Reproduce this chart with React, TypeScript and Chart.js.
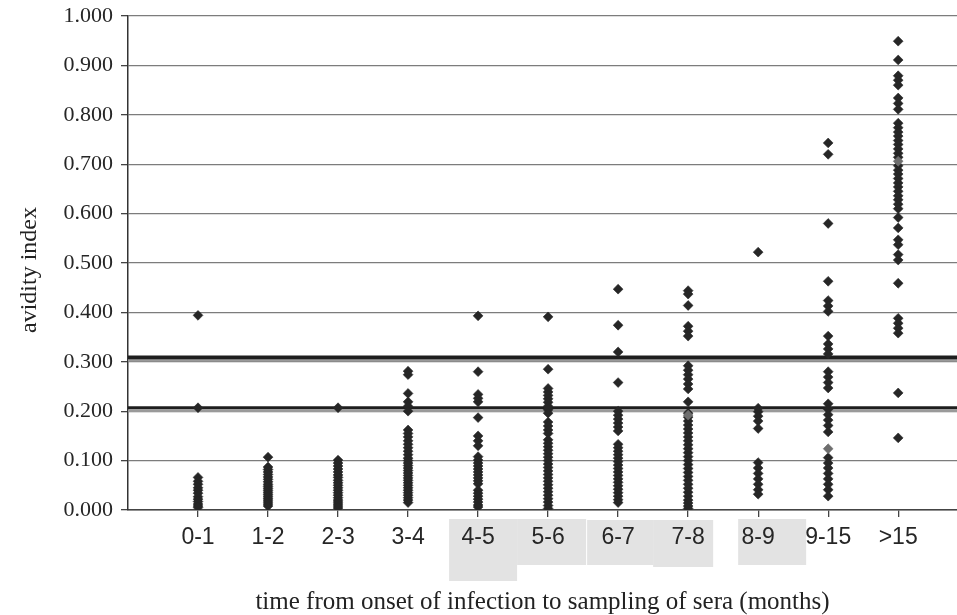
import React, { useEffect, useRef } from 'react';
import { Chart, registerables } from 'chart.js';

Chart.register(...registerables);

// ---- data -----------------------------------------------------------------
const CATEGORIES = ['0-1', '1-2', '2-3', '3-4', '4-5', '5-6', '6-7', '7-8', '8-9', '9-15', '>15'];

const AVIDITY_0_1 = [0.394, 0.207, 0.066, 0.058, 0.052, 0.045, 0.040, 0.034, 0.027, 0.022, 0.017, 0.012, 0.008, 0.005];
const AVIDITY_1_2 = [0.107, 0.087, 0.082, 0.077, 0.072, 0.067, 0.062, 0.057, 0.052, 0.048, 0.044, 0.040, 0.036, 0.032, 0.028, 0.024, 0.020, 0.016, 0.012, 0.008];
const AVIDITY_2_3 = [0.207, 0.101, 0.095, 0.089, 0.083, 0.077, 0.071, 0.066, 0.060, 0.055, 0.050, 0.045, 0.040, 0.035, 0.030, 0.025, 0.020, 0.016, 0.012, 0.008, 0.004];
const AVIDITY_3_4 = [0.281, 0.274, 0.236, 0.219, 0.210, 0.200, 0.162, 0.155, 0.148, 0.140, 0.133, 0.126, 0.119, 0.112, 0.105, 0.100, 0.095, 0.090, 0.085, 0.080, 0.075, 0.070, 0.065, 0.060, 0.055, 0.050, 0.045, 0.040, 0.035, 0.030, 0.025, 0.020, 0.015];
const AVIDITY_4_5 = [0.393, 0.280, 0.234, 0.226, 0.219, 0.187, 0.150, 0.140, 0.130, 0.108, 0.101, 0.095, 0.089, 0.083, 0.077, 0.071, 0.065, 0.059, 0.053, 0.040, 0.034, 0.028, 0.022, 0.016, 0.010, 0.006];
const AVIDITY_5_6 = [0.391, 0.285, 0.246, 0.239, 0.232, 0.225, 0.218, 0.210, 0.203, 0.196, 0.178, 0.170, 0.162, 0.155, 0.142, 0.135, 0.128, 0.121, 0.114, 0.107, 0.100, 0.093, 0.086, 0.079, 0.072, 0.065, 0.058, 0.051, 0.044, 0.037, 0.030, 0.023, 0.016, 0.009, 0.003];
const AVIDITY_6_7 = [0.447, 0.374, 0.320, 0.258, 0.200, 0.192, 0.184, 0.176, 0.168, 0.160, 0.133, 0.126, 0.119, 0.112, 0.105, 0.098, 0.091, 0.084, 0.077, 0.070, 0.063, 0.056, 0.049, 0.042, 0.035, 0.028, 0.021, 0.015];
const AVIDITY_7_8 = [0.444, 0.437, 0.414, 0.372, 0.362, 0.352, 0.292, 0.283, 0.274, 0.265, 0.255, 0.245, 0.219, 0.196, 0.188, 0.180, 0.172, 0.164, 0.156, 0.148, 0.140, 0.132, 0.124, 0.116, 0.108, 0.100, 0.092, 0.084, 0.076, 0.068, 0.060, 0.052, 0.044, 0.036, 0.028, 0.020, 0.014, 0.008, 0.003];
const AVIDITY_8_9 = [0.522, 0.206, 0.199, 0.190, 0.180, 0.165, 0.096, 0.085, 0.074, 0.063, 0.052, 0.041, 0.032];
const AVIDITY_9_15 = [0.743, 0.720, 0.580, 0.463, 0.424, 0.413, 0.402, 0.352, 0.336, 0.326, 0.316, 0.280, 0.269, 0.258, 0.247, 0.215, 0.204, 0.193, 0.182, 0.171, 0.158, 0.106, 0.095, 0.085, 0.074, 0.063, 0.052, 0.041, 0.028];
const AVIDITY_GT_15 = [0.949, 0.911, 0.879, 0.870, 0.860, 0.834, 0.823, 0.811, 0.783, 0.774, 0.765, 0.757, 0.748, 0.740, 0.731, 0.722, 0.714, 0.697, 0.688, 0.680, 0.671, 0.662, 0.654, 0.645, 0.636, 0.628, 0.619, 0.610, 0.592, 0.571, 0.547, 0.537, 0.517, 0.506, 0.459, 0.388, 0.378, 0.368, 0.358, 0.237, 0.146];

const COLUMNS = [
  AVIDITY_0_1, AVIDITY_1_2, AVIDITY_2_3, AVIDITY_3_4, AVIDITY_4_5, AVIDITY_5_6,
  AVIDITY_6_7, AVIDITY_7_8, AVIDITY_8_9, AVIDITY_9_15, AVIDITY_GT_15,
];

// lighter (grey) markers
const GREY_CATEGORY = ['7-8', '9-15', '>15'];
const GREY_VALUES = [0.192, 0.124, 0.706];

const THRESHOLDS = [0.309, 0.207];

const Y_MIN = 0;
const Y_MAX = 1;
const Y_STEP = 0.1;
const X_MAX = 11.84;

const Y_TITLE = 'avidity index';
const X_TITLE = 'time from onset of infection to sampling of sera (months)';

// ---- plugin: grey boxes behind some labels, shadow under threshold lines, y title
const decorPlugin = {
  id: 'decor',
  beforeDraw(chart: any) {
    const { ctx, scales } = chart;
    const xs = scales.x;
    const base = scales.y.getPixelForValue(0);
    // [category, left offset, right offset, top offset, bottom offset]
    const boxes: [string, number, number, number, number][] = [
      ['4-5', -29, 39, 9, 71],
      ['5-6', -31, 38, 9, 55],
      ['6-7', -31, 35, 10, 55],
      ['7-8', -35, 25, 10, 57],
      ['8-9', -20, 48, 9, 55],
    ];
    ctx.save();
    ctx.fillStyle = '#e3e3e3';
    for (const [cat, l, r, t, b] of boxes) {
      const cx = xs.getPixelForValue(CATEGORIES.indexOf(cat) + 1);
      ctx.fillRect(cx + l, base + t, r - l, b - t);
    }
    ctx.restore();
  },
  beforeDatasetsDraw(chart: any) {
    const { ctx, scales, chartArea } = chart;
    ctx.save();
    ctx.strokeStyle = '#9a9a9a';
    ctx.lineWidth = 2.5;
    for (const v of THRESHOLDS) {
      const y = scales.y.getPixelForValue(v) + 3;
      ctx.beginPath();
      ctx.moveTo(chartArea.left, y);
      ctx.lineTo(chartArea.right, y);
      ctx.stroke();
    }
    ctx.restore();
  },
  afterDraw(chart: any) {
    const { ctx, chartArea } = chart;
    ctx.save();
    ctx.translate(chartArea.left - 98, (chartArea.top + chartArea.bottom) / 2 + 7);
    ctx.rotate(-Math.PI / 2);
    ctx.fillStyle = '#222';
    ctx.font = '24px "Liberation Serif"';
    ctx.textAlign = 'center';
    ctx.textBaseline = 'middle';
    ctx.fillText(Y_TITLE, 0, 0);
    ctx.restore();
  },
};

export default function App() {
  const ref = useRef<HTMLCanvasElement | null>(null);

  useEffect(() => {
    if (!ref.current) return;
    const pointDatasets = COLUMNS.map((vals, i) => ({
      type: 'scatter' as const,
      label: CATEGORIES[i],
      data: vals.map((v) => ({ x: i + 1, y: v })),
      pointStyle: 'rectRot',
      pointRadius: 4.9,
      pointBorderWidth: 0.6,
      backgroundColor: '#262626',
      borderColor: '#262626',
      order: 1,
    }));
    const greyDataset = {
      type: 'scatter' as const,
      label: 'grey',
      data: GREY_CATEGORY.map((c, i) => ({ x: CATEGORIES.indexOf(c) + 1, y: GREY_VALUES[i] })),
      pointStyle: 'rectRot',
      pointRadius: 4.9,
      pointBorderWidth: 0.6,
      backgroundColor: '#6e6e6e',
      borderColor: '#6e6e6e',
      order: 0,
    };
    const lineDatasets = THRESHOLDS.map((v, i) => ({
      type: 'line' as const,
      label: 'threshold ' + i,
      data: [{ x: 0, y: v }, { x: X_MAX, y: v }],
      borderColor: '#1e1e1e',
      borderWidth: i === 0 ? 3.6 : 3.2,
      pointRadius: 0,
      fill: false,
      order: 2,
    }));

    const chart = new Chart(ref.current, {
      type: 'scatter',
      data: { datasets: [...lineDatasets, ...pointDatasets, greyDataset] as any },
      options: {
        animation: false,
        responsive: false,
        maintainAspectRatio: false,
        layout: { autoPadding: false, padding: { top: 16, left: 0, right: 0, bottom: 0 } },
        plugins: {
          legend: { display: false },
          tooltip: { enabled: false },
        },
        scales: {
          x: {
            type: 'linear',
            min: 0,
            max: X_MAX,
            afterBuildTicks: (scale: any) => {
              scale.ticks = CATEGORIES.map((_, i) => ({ value: i + 1 }));
            },
            afterFit: (scale: any) => {
              scale.height = 105;
              scale.paddingLeft = 0;
              scale.paddingRight = 0;
            },
            ticks: {
              autoSkip: false,
              maxRotation: 0,
              padding: 7,
              color: '#262626',
              font: { family: 'Liberation Sans', size: 23 },
              callback: (v: any) => CATEGORIES[Math.round(Number(v)) - 1] ?? '',
            },
            grid: {
              display: true,
              drawOnChartArea: false,
              drawTicks: true,
              tickLength: 7,
              tickColor: '#444',
              lineWidth: 1.3,
            },
            border: { display: true, color: '#444', width: 1.5 },
            title: {
              display: true,
              text: X_TITLE,
              color: '#222',
              font: { family: 'Liberation Serif', size: 25 },
              padding: { top: 0, bottom: -2 },
            },
          },
          y: {
            type: 'linear',
            min: Y_MIN,
            max: Y_MAX,
            afterFit: (scale: any) => {
              scale.width = 128;
              scale.paddingTop = 0;
              scale.paddingBottom = 0;
            },
            ticks: {
              stepSize: Y_STEP,
              padding: 8,
              color: '#262626',
              font: { family: 'Liberation Serif', size: 22 },
              callback: (v: any) => Number(v).toFixed(3),
            },
            grid: {
              color: '#7c7c7c',
              lineWidth: 1.3,
              drawTicks: true,
              tickLength: 7,
              tickColor: '#444',
            },
            border: { display: true, color: '#333', width: 1.5 },
            title: { display: false },
          },
        },
      },
      plugins: [decorPlugin],
    });
    return () => chart.destroy();
  }, []);

  return (
    <div style={{ position: 'fixed', left: 0, top: 0, width: 957, height: 615, background: '#fff' }}>
      <canvas ref={ref} width={957} height={615} />
    </div>
  );
}
